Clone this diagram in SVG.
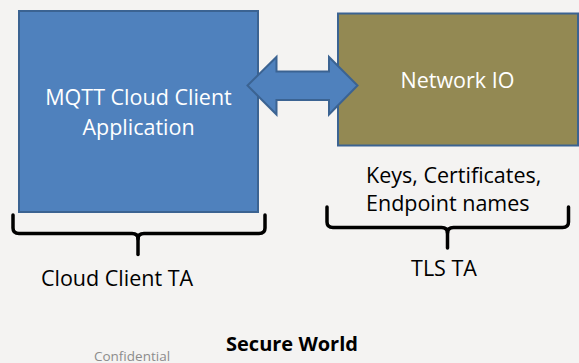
<svg xmlns="http://www.w3.org/2000/svg" width="579" height="363" viewBox="0 0 579 363">
  <style>
    .box { stroke: #3b6392; stroke-width: 2; }
    .inner { font-family: "Open Sans", "Liberation Sans", sans-serif; font-size: 21.5px; fill: #ffffff; text-anchor: middle; }
    .label { font-family: "Open Sans", "Liberation Sans", sans-serif; font-size: 21.5px; fill: #000000; }
    .brace { fill: none; stroke: #000000; stroke-width: 3.5; stroke-linecap: round; stroke-linejoin: round; }
  </style>
  <rect x="0" y="0" width="579" height="363" fill="#f4f3f2"/>

  <g id="mqtt-app">
    <rect class="box" x="19" y="11" width="239" height="201" fill="#4f81bd"/>
    <text class="inner" x="138.5" y="105">MQTT Cloud Client</text>
    <text class="inner" x="138.5" y="135">Application</text>
  </g>

  <g id="network-io">
    <rect class="box" x="338" y="13.5" width="240" height="132" fill="#938953"/>
    <text class="inner" x="457.5" y="88">Network IO</text>
  </g>

  <g id="connectors">
    <!-- two-way block arrow between the application and network IO -->
    <path d="M247.5,85.5 L276.5,57 L276.5,71.5 L329,71.5 L329,57 L357.5,85.5 L329,114.5 L329,100 L276.5,100 L276.5,114.5 Z"
          fill="#4f81bd" stroke="#3b6392" stroke-width="2" stroke-linejoin="miter"/>
  </g>

  <g id="cloud-client-ta">
    <path class="brace" d="M13,215 V228 Q13,233.5 19,233.5 H132 Q138,233.5 138,239 Q138,233.5 144,233.5 H259 Q265,233.5 265,228 V215"/>
    <path class="brace" d="M138,237 V254.5"/>
    <text class="label" x="117" y="286" text-anchor="middle">Cloud Client TA</text>
  </g>

  <g id="tls-ta">
    <text class="label" x="366" y="182.7">Keys, Certificates,</text>
    <text class="label" x="366" y="211">Endpoint names</text>
    <path class="brace" d="M327,207 V222 Q327,227.5 333,227.5 H441.5 Q447.5,227.5 447.5,233 Q447.5,227.5 453.5,227.5 H562.5 Q568.5,227.5 568.5,222 V207"/>
    <path class="brace" d="M447.5,231 V248"/>
    <text class="label" x="444" y="276" text-anchor="middle">TLS TA</text>
  </g>

  <text x="292" y="350.5" text-anchor="middle" font-family="'Open Sans', 'Liberation Sans', sans-serif" font-size="20px" font-weight="bold" fill="#000000">Secure World</text>
  <text x="132" y="360.5" text-anchor="middle" font-family="'Open Sans', 'Liberation Sans', sans-serif" font-size="13.5px" fill="#8c8c8c">Confidential</text>
</svg>
